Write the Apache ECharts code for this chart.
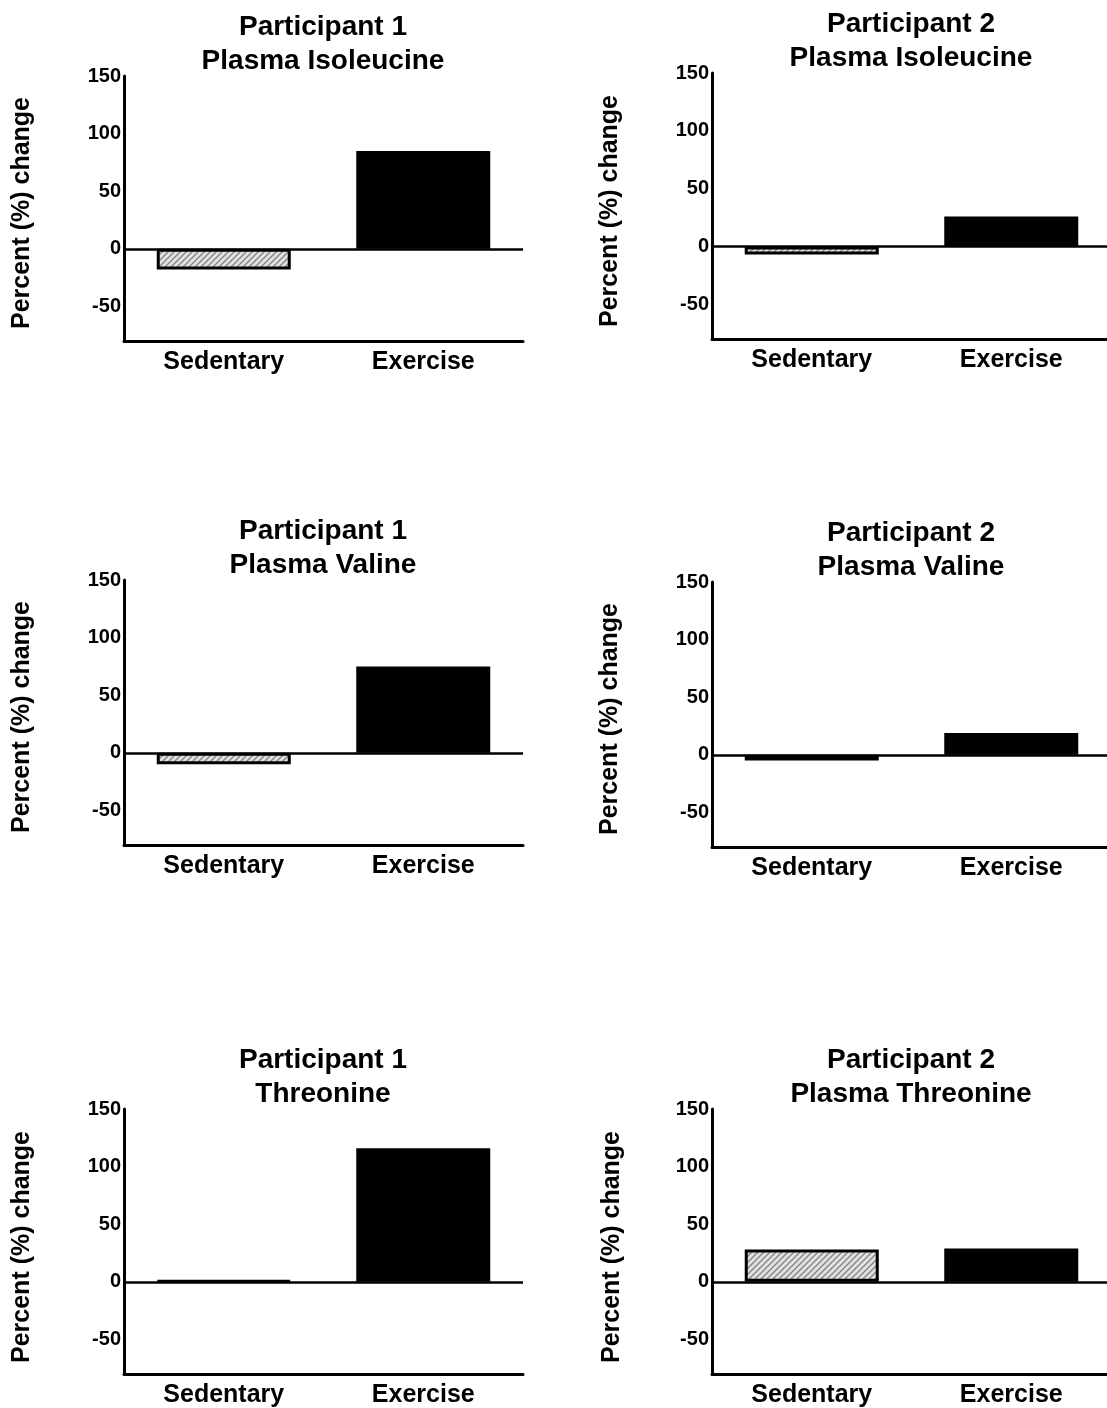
<!DOCTYPE html>
<html>
<head>
<meta charset="utf-8">
<script src="https://cdn.jsdelivr.net/npm/echarts@6/dist/echarts.min.js"></script>
<style>
html,body{margin:0;padding:0;background:#fff;overflow:hidden;}
#chart{width:1112px;height:1408px;}
</style>
</head>
<body>
<div id="chart"></div>
<script>
// ---- data ----
var categories = ['Sedentary', 'Exercise'];
var p1Isoleucine = [-18, 85];
var p2Isoleucine = [-7, 26];
var p1Valine = [-10, 75];
var p2Valine = [-5, 19];
var p1Threonine = [1, 116];
var p2Threonine = [28, 29];
var yTicks = [-50, 0, 50, 100, 150];
var yMin = -80, yMax = 150;
var yName = 'Percent (%) change';
var titles = [
  'Participant 1\nPlasma Isoleucine',
  'Participant 2\nPlasma Isoleucine',
  'Participant 1\nPlasma Valine',
  'Participant 2\nPlasma Valine',
  'Participant 1\nThreonine',
  'Participant 2\nPlasma Threonine'
];
var seriesData = [p1Isoleucine, p2Isoleucine, p1Valine, p2Valine, p1Threonine, p2Threonine];

// ---- layout ----
var grids = [
  {left: 124, top: 76, height: 265},
  {left: 712, top: 73, height: 266},
  {left: 124, top: 580, height: 265},
  {left: 712, top: 582, height: 265},
  {left: 124, top: 1109, height: 266},
  {left: 712, top: 1109, height: 266}
];
var gridW = 399;
var titleTops = [5, 2, 509, 511, 1038, 1038];
var titleCx = [318, 906, 318, 906, 318, 906];
var nameX = [22, 610, 22, 610, 22, 612];
var nameY = [213, 211, 717, 719, 1247, 1247];

// hatch pattern
var pc = document.createElement('canvas');
pc.width = 6; pc.height = 6;
var ctx = pc.getContext('2d');
ctx.fillStyle = '#e2e2e2';
ctx.fillRect(0, 0, 6, 6);
ctx.strokeStyle = '#8a8a8a';
ctx.lineWidth = 1.5;
ctx.beginPath();
ctx.moveTo(-1, 7); ctx.lineTo(7, -1);
ctx.moveTo(-4, 4); ctx.lineTo(4, -4);
ctx.moveTo(2, 10); ctx.lineTo(10, 2);
ctx.stroke();

var font = 'Liberation Sans, Arial, sans-serif';
var option = {
  backgroundColor: '#fff',
  animation: false,
  title: [], grid: [], xAxis: [], yAxis: [], series: [], graphic: []
};

grids.forEach(function (g, i) {
  option.grid.push({left: g.left, top: g.top, width: gridW, height: g.height, containLabel: false});
  option.title.push({
    text: titles[i],
    left: titleCx[i],
    top: titleTops[i],
    textAlign: 'center',
    textStyle: {fontFamily: font, fontWeight: 'bold', fontSize: 28, lineHeight: 34, color: '#000'}
  });
  option.graphic.push({
    type: 'text', x: nameX[i], y: nameY[i], rotation: Math.PI / 2,
    style: {text: yName, fill: '#000', font: 'bold 25px ' + font, textAlign: 'center', textVerticalAlign: 'middle'}
  });
  option.xAxis.push({
    type: 'category', gridIndex: i, data: categories,
    axisLine: {onZero: false, lineStyle: {color: '#000', width: 3}},
    axisTick: {show: false},
    axisLabel: {color: '#000', fontFamily: font, fontWeight: 'bold', fontSize: 25, margin: 9}
  });
  option.yAxis.push({
    type: 'value', gridIndex: i, min: yMin, max: yMax,
    axisLine: {show: true, lineStyle: {color: '#000', width: 3}},
    axisTick: {show: false},
    splitLine: {show: false},
    axisLabel: {color: '#000', fontFamily: font, fontWeight: 'bold', fontSize: 20, margin: 3,
      customValues: yTicks}
  });
  var d = seriesData[i];
  option.series.push({
    type: 'bar', xAxisIndex: i, yAxisIndex: i, barWidth: 134,
    data: [
      {value: d[0], itemStyle: {color: {image: pc, repeat: 'repeat'}, borderColor: '#000', borderWidth: 3}},
      {value: d[1], itemStyle: {color: '#000'}}
    ],
    markLine: {
      silent: true, symbol: 'none', label: {show: false},
      lineStyle: {color: '#000', width: 2.5, type: 'solid'},
      data: [{yAxis: 0}]
    }
  });
});

var chart = echarts.init(document.getElementById('chart'), null, {renderer: 'canvas'});
chart.setOption(option);
</script>
</body>
</html>
